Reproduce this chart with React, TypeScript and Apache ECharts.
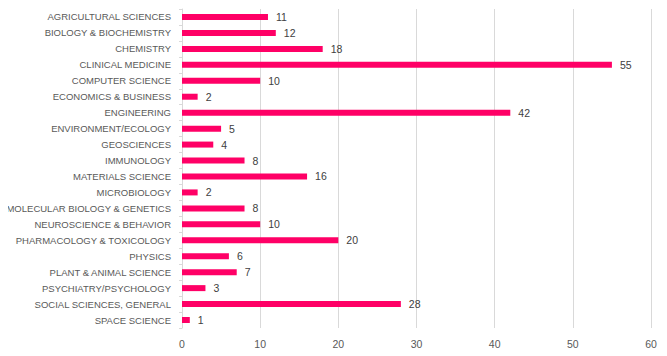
import React, { useEffect, useRef } from "react";
import * as echarts from "echarts";

const categories = [
  "AGRICULTURAL SCIENCES",
  "BIOLOGY & BIOCHEMISTRY",
  "CHEMISTRY",
  "CLINICAL MEDICINE",
  "COMPUTER SCIENCE",
  "ECONOMICS & BUSINESS",
  "ENGINEERING",
  "ENVIRONMENT/ECOLOGY",
  "GEOSCIENCES",
  "IMMUNOLOGY",
  "MATERIALS SCIENCE",
  "MICROBIOLOGY",
  "MOLECULAR BIOLOGY & GENETICS",
  "NEUROSCIENCE & BEHAVIOR",
  "PHARMACOLOGY & TOXICOLOGY",
  "PHYSICS",
  "PLANT & ANIMAL SCIENCE",
  "PSYCHIATRY/PSYCHOLOGY",
  "SOCIAL SCIENCES, GENERAL",
  "SPACE SCIENCE",
];
const values = [11, 12, 18, 55, 10, 2, 42, 5, 4, 8, 16, 2, 8, 10, 20, 6, 7, 3, 28, 1];

const FONT = "'Liberation Sans', sans-serif";

export default function App() {
  const ref = useRef<HTMLDivElement>(null);
  useEffect(() => {
    if (!ref.current) return;
    const chart = echarts.init(ref.current, undefined, { renderer: "svg" });
    chart.setOption({
      animation: false,
      grid: {
        left: 182,
        right: 16,
        top: 9,
        bottom: 28,
        containLabel: false,
        outerBoundsMode: "none",
      },
      xAxis: {
        type: "value",
        min: 0,
        max: 60,
        interval: 10,
        axisLine: { show: false },
        axisTick: { show: false },
        splitLine: { lineStyle: { color: "#D9D9D9", width: 1 } },
        axisLabel: { color: "#595959", fontSize: 10.5, fontFamily: FONT, margin: 10 },
      },
      yAxis: {
        type: "category",
        data: categories,
        inverse: true,
        axisLine: { show: true, lineStyle: { color: "#D9D9D9" } },
        axisTick: { show: true, length: 3, lineStyle: { color: "#D9D9D9" } },
        axisLabel: { color: "#595959", fontSize: 9.5, fontFamily: FONT, margin: 11 },
      },
      series: [
        {
          type: "bar",
          data: values,
          barWidth: 6,
          itemStyle: { color: "#FF0066" },
          label: {
            show: true,
            position: "right",
            distance: 8,
            color: "#404040",
            fontSize: 10.5,
            fontFamily: FONT,
          },
        },
      ],
    });
    return () => chart.dispose();
  }, []);
  return <div ref={ref} style={{ width: 667, height: 356, margin: -8 }} />;
}
